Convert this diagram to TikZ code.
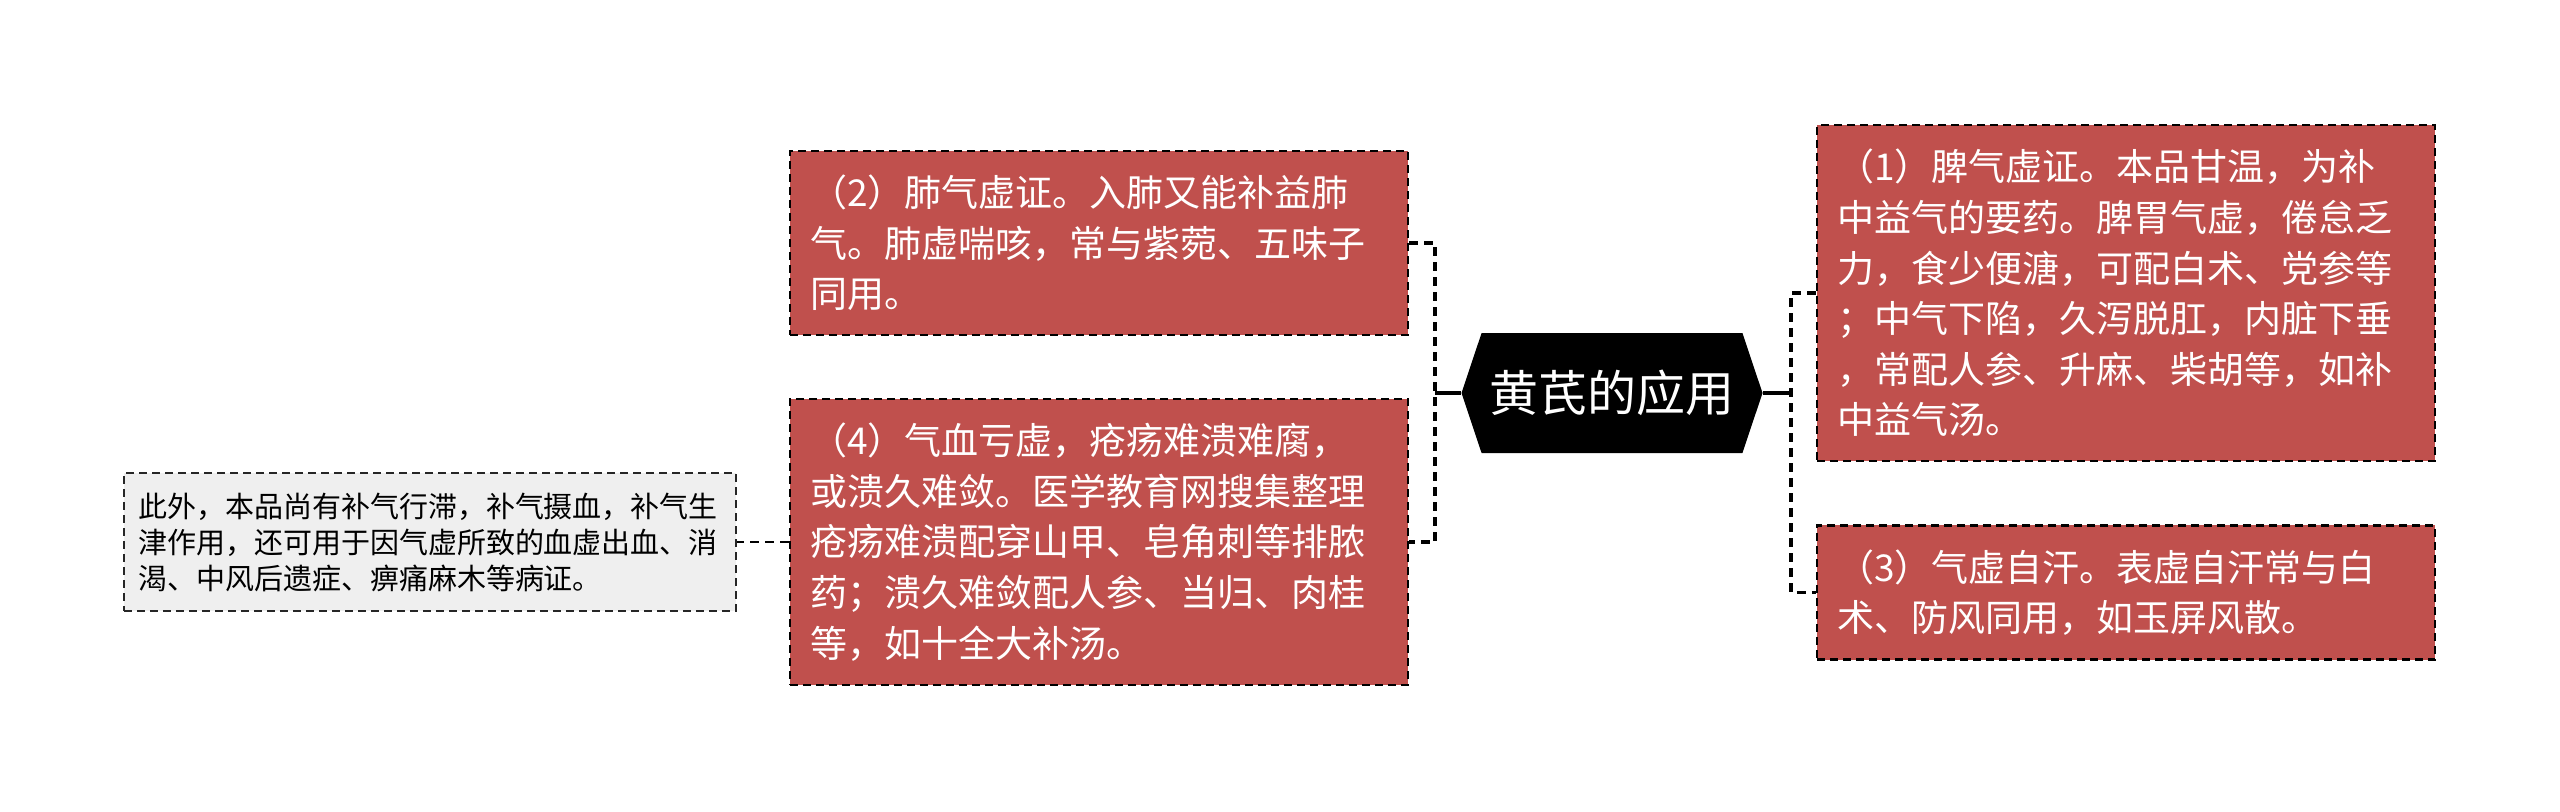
\documentclass[tikz,border=0pt]{standalone}
\usepackage{fontspec}
\setmainfont{Noto Sans CJK SC}
\usetikzlibrary{shapes.symbols}
\definecolor{boxred}{RGB}{192,80,77}
\definecolor{boxgray}{RGB}{239,239,239}

\begin{document}
\begin{tikzpicture}[x=0.5pt,y=-0.5pt,
  redbox/.style={draw=black, line width=1.3pt, dash pattern=on 4pt off 2.5pt, fill=boxred, text=white, align=left, text width=289pt, inner xsep=10pt, inner ysep=12pt, font=\fontsize{18.5}{25.3}\selectfont},
  graybox/.style={draw=black!85, line width=1.1pt, dash pattern=on 4pt off 2.5pt, fill=boxgray, align=left, text width=292pt, inner xsep=7pt, inner ysep=9.75pt, font=\fontsize{14.5}{18}\selectfont},
  link/.style={line width=1.9pt, dash pattern=on 4.5pt off 3pt},
  stem/.style={line width=1.8pt}]
\useasboundingbox (0,0) rectangle (2560,811);

% Central Node
\node (cen) at (1612,393) [signal, signal to=east and west, signal pointer angle=143, fill=black, text=white, minimum width=150.5pt, minimum height=60pt, inner sep=0pt, font=\fontsize{24.5}{28}\selectfont] {黄芪的应用};

% Text Node
\node (b2) at (1099,243) [redbox] {（2）肺气虚证。入肺又能补益肺\\气。肺虚喘咳，常与紫菀、五味子\\同用。};
% Text Node
\node (b4) at (1099,542) [redbox] {（4）气血亏虚，疮疡难溃难腐，\\或溃久难敛。医学教育网搜集整理\\疮疡难溃配穿山甲、皂角刺等排脓\\药；溃久难敛配人参、当归、肉桂\\等，如十全大补汤。};
% Text Node
\node (note) at (430,542) [graybox] {此外，本品尚有补气行滞，补气摄血，补气生\\津作用，还可用于因气虚所致的血虚出血、消\\渴、中风后遗症、痹痛麻木等病证。};
% Text Node
\node (b1) at (2126,293) [redbox] {（1）脾气虚证。本品甘温，为补\\中益气的要药。脾胃气虚，倦怠乏\\力，食少便溏，可配白术、党参等\\；中气下陷，久泻脱肛，内脏下垂\\，常配人参、升麻、柴胡等，如补\\中益气汤。};
% Text Node
\node (b3) at (2126,592.5) [redbox] {（3）气虚自汗。表虚自汗常与白\\术、防风同用，如玉屏风散。};

\coordinate (jl) at (1435,393);
\coordinate (jr) at (1791,393);

%Straight Lines
\draw [stem] (cen.west) -- (jl);
\draw [link] (b2.east) -| (jl) |- (b4.east);
%Straight Lines
\draw [stem] (cen.east) -- (jr);
\draw [link] (b1.west) -| (jr) |- (b3.west);
%Straight Lines
\draw [link, line width=1.2pt] (b4.west) -- (note.east);

\end{tikzpicture}
\end{document}
